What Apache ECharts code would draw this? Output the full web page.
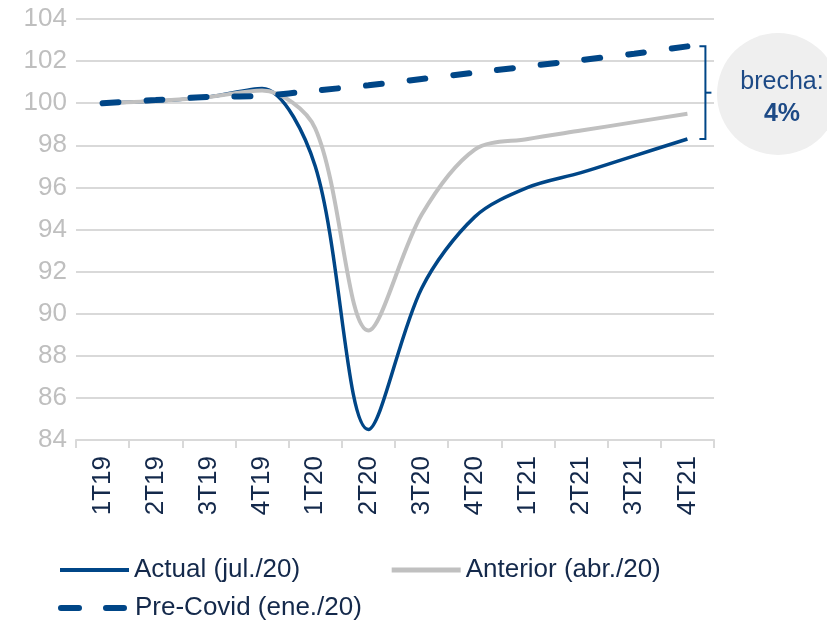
<!DOCTYPE html>
<html>
<head>
<meta charset="utf-8">
<script src="https://cdn.jsdelivr.net/npm/echarts@6/dist/echarts.min.js"></script>
<style>
html,body{margin:0;padding:0;background:#fff;}
#chart{width:827px;height:622px;}
</style>
</head>
<body>
<div id="chart"></div>
<script>
const categories = ['1T19','2T19','3T19','4T19','1T20','2T20','3T20','4T20','1T21','2T21','3T21','4T21'];
const actual   = [100.0, 100.1, 100.3, 100.7, 97.0, 84.5, 91.2, 94.6, 96.0, 96.7, 97.5, 98.3];
const anterior = [100.0, 100.1, 100.3, 100.6, 98.8, 89.2, 94.7, 97.8, 98.3, 98.7, 99.1, 99.5];
const preCovid = [100.0, 100.15, 100.3, 100.35, 100.6, 100.85, 101.15, 101.45, 101.75, 102.05, 102.35, 102.7];
const seriesNames = ['Actual (jul./20)', 'Anterior (abr./20)', 'Pre-Covid (ene./20)'];
const gapLabel = 'brecha:';
const gapValue = '4%';

const BLUE = '#004687';
const GREY = '#c0c0c0';
const TXT = '#14294b';
const FONT = 'Liberation Sans, Arial, sans-serif';

const chart = echarts.init(document.getElementById('chart'));
const legendText = {color: TXT, fontSize: 26, fontFamily: FONT};
const option = {
  animation: false,
  backgroundColor: '#ffffff',
  grid: {left: 76, right: 113, top: 19, bottom: 182, containLabel: false},
  legend: [
    {data: [
       {name: seriesNames[0], itemStyle: {opacity: 0}, lineStyle: {color: BLUE, width: 4}},
       {name: seriesNames[1], itemStyle: {opacity: 0}, lineStyle: {color: GREY, width: 5}}
     ],
     left: 53, top: 552, itemWidth: 69, itemHeight: 14, itemGap: 89,
     textStyle: legendText},
    {data: [
       {name: seriesNames[2], itemStyle: {opacity: 0}, lineStyle: {color: BLUE, width: 6, type: [18, 27], cap: 'round'}}
     ],
     left: 53, top: 590, itemWidth: 69, itemHeight: 14,
     textStyle: legendText}
  ],
  xAxis: {
    type: 'category', data: categories, boundaryGap: true,
    axisLine: {lineStyle: {color: '#d9d9d9', width: 2}},
    axisTick: {show: true, length: 8, lineStyle: {color: '#d9d9d9', width: 2}},
    axisLabel: {rotate: 90, margin: 16, color: TXT, fontSize: 26, fontFamily: FONT}
  },
  yAxis: {
    type: 'value', min: 84, max: 104, interval: 2,
    axisLine: {show: false}, axisTick: {show: false},
    splitLine: {lineStyle: {color: '#d9d9d9', width: 2}},
    axisLabel: {color: '#bfbfbf', fontSize: 26, fontFamily: FONT, margin: 9}
  },
  series: [
    {name: seriesNames[0], type: 'line', data: actual, smooth: 0.32, symbol: 'none',
     lineStyle: {color: BLUE, width: 3.5}, itemStyle: {color: BLUE}},
    {name: seriesNames[1], type: 'line', data: anterior, smooth: 0.32, symbol: 'none',
     lineStyle: {color: GREY, width: 4}, itemStyle: {color: GREY}},
    {name: seriesNames[2], type: 'line', data: preCovid, smooth: 0.3, symbol: 'none',
     lineStyle: {color: BLUE, width: 6, type: [16, 28], cap: 'round'}, itemStyle: {color: BLUE}}
  ]
};
chart.setOption(option);

// bracket annotation from data positions
const lastIdx = categories.length - 1;
const pTop = chart.convertToPixel({gridIndex: 0}, [lastIdx, preCovid[lastIdx]]);
const pBot = chart.convertToPixel({gridIndex: 0}, [lastIdx, actual[lastIdx]]);
const bx = pTop[0] + 18;
const yT = pTop[1], yB = pBot[1], yM = (yT + yB) / 2;
chart.setOption({
  graphic: [
    {type: 'polyline', shape: {points: [[bx - 6, yT], [bx, yT], [bx, yB], [bx - 6, yB]]},
     style: {stroke: BLUE, lineWidth: 2, fill: null}},
    {type: 'line', shape: {x1: bx, y1: yM, x2: bx + 6, y2: yM}, style: {stroke: BLUE, lineWidth: 2}},
    {type: 'circle', shape: {cx: 778, cy: 94, r: 61}, style: {fill: '#efefef'}},
    {type: 'text', x: 782, y: 82, style: {text: gapLabel, fill: '#1d4a86', fontSize: 25, fontFamily: FONT,
      align: 'center', verticalAlign: 'middle'}},
    {type: 'text', x: 782, y: 114, style: {text: gapValue, fill: '#1d4a86', fontSize: 25, fontWeight: 'bold',
      fontFamily: FONT, align: 'center', verticalAlign: 'middle'}}
  ]
});
</script>
</body>
</html>
